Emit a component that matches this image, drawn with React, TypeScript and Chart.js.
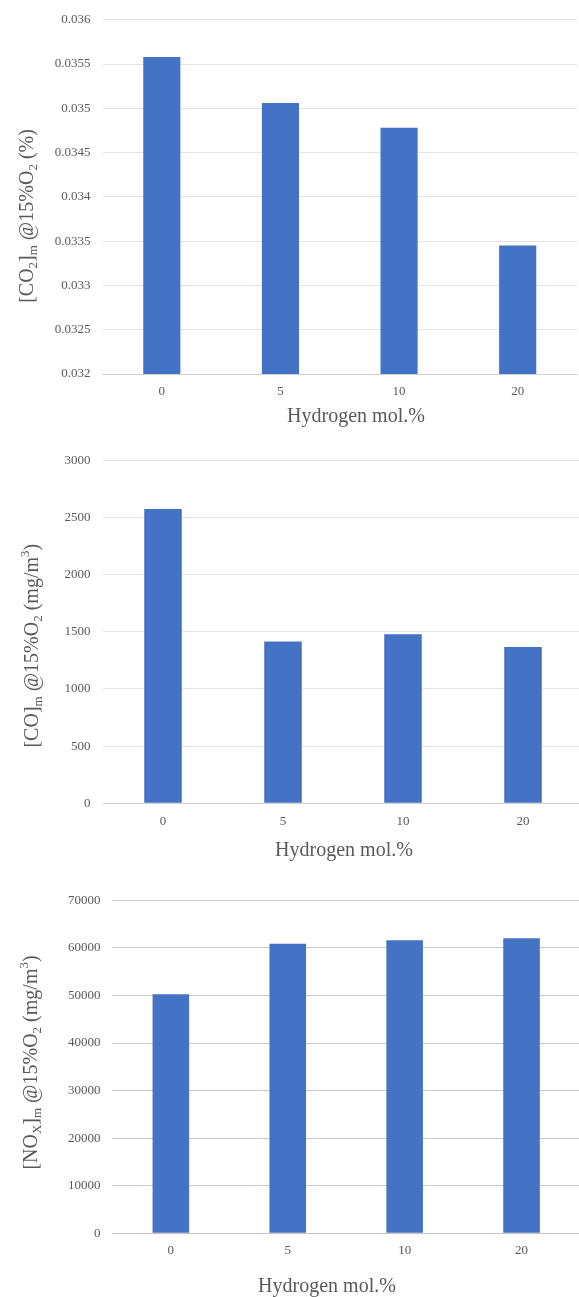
import React, { useEffect, useRef } from "react";
import { Chart, registerables } from "chart.js";

Chart.register(...registerables);

const categories = ["0", "5", "10", "20"];
const co2Values = [0.03558, 0.03506, 0.03478, 0.03345];
const coValues = [2575, 1416, 1479, 1367];
const noxValues = [50240, 60880, 61590, 62010];

const xTitle = "Hydrogen mol.%";
type Seg = { t: string; k?: "sub" | "sup" };
const co2Title: Seg[] = [
  { t: "[CO" }, { t: "2", k: "sub" }, { t: "]" }, { t: "m", k: "sub" },
  { t: " @15%O" }, { t: "2", k: "sub" }, { t: " (%)" },
];
const coTitle: Seg[] = [
  { t: "[CO]" }, { t: "m", k: "sub" }, { t: " @15%O" }, { t: "2", k: "sub" },
  { t: " (mg/m" }, { t: "3", k: "sup" }, { t: ")" },
];
const noxTitle: Seg[] = [
  { t: "[NO" }, { t: "X", k: "sub" }, { t: "]" }, { t: "m", k: "sub" },
  { t: " @15%O" }, { t: "2", k: "sub" }, { t: " (mg/m" }, { t: "3", k: "sup" }, { t: ")" },
];

const FONT = "'Liberation Serif', 'Times New Roman', serif";
const TXT = "#595959";
const BAR = "#4472C4";

type Cfg = {
  top: number;
  width: number;
  height: number;
  values: number[];
  min: number;
  max: number;
  step: number;
  fmt: (v: number) => string;
  padTop: number;
  padRight: number;
  yWidth: number;
  xHeight: number;
  yTickPad: number;
  xTickPad: number;
  gridColor: string;
  axisColor: string;
  yTitle: Seg[];
  yTitlePos: [number, number];
  xTitlePos: [number, number];
};

const charts: Cfg[] = [
  {
    top: 0, width: 579, height: 430, values: co2Values, min: 0.032, max: 0.036, step: 0.0005,
    fmt: (v) => String(+v.toFixed(4)), padTop: 18, padRight: 2, yWidth: 102.5, xHeight: 56,
    yTickPad: 12, xTickPad: 10, gridColor: "#e4e4e4", axisColor: "#d0d0d0",
    yTitle: co2Title, yTitlePos: [27.5, 216], xTitlePos: [356, 417],
  },
  {
    top: 440, width: 583, height: 430, values: coValues, min: 0, max: 3000, step: 500,
    fmt: (v) => String(v), padTop: 17.3, padRight: 0, yWidth: 103, xHeight: 66.7,
    yTickPad: 12.5, xTickPad: 10.5, gridColor: "#e4e4e4", axisColor: "#d0d0d0",
    yTitle: coTitle, yTitlePos: [32.5, 205.7], xTitlePos: [344, 410.7],
  },
  {
    top: 870, width: 580, height: 427, values: noxValues, min: 0, max: 70000, step: 10000,
    fmt: (v) => String(v), padTop: 30.3, padRight: 0, yWidth: 112.4, xHeight: 63.7,
    yTickPad: 12, xTickPad: 9.5, gridColor: "#cbcbcb", axisColor: "#c4c4c4",
    yTitle: noxTitle, yTitlePos: [31.5, 192.5], xTitlePos: [327, 416.7],
  },
];

function drawSegs(ctx: CanvasRenderingContext2D, segs: Seg[], cx: number, cy: number) {
  const big = `20px ${FONT}`;
  const small = `13px ${FONT}`;
  ctx.save();
  ctx.translate(cx, cy);
  ctx.rotate(-Math.PI / 2);
  ctx.fillStyle = TXT;
  ctx.textBaseline = "middle";
  ctx.textAlign = "left";
  let total = 0;
  for (const s of segs) {
    ctx.font = s.k ? small : big;
    total += ctx.measureText(s.t).width;
  }
  let x = -total / 2;
  for (const s of segs) {
    ctx.font = s.k ? small : big;
    const dy = s.k === "sub" ? 6 : s.k === "sup" ? -7 : 0;
    ctx.fillText(s.t, x, dy);
    x += ctx.measureText(s.t).width;
  }
  ctx.restore();
}

function BarChart({ cfg }: { cfg: Cfg }) {
  const ref = useRef<HTMLCanvasElement | null>(null);
  useEffect(() => {
    if (!ref.current) return;
    const titles = {
      id: "titles",
      afterDraw(chart: any) {
        const ctx = chart.ctx as CanvasRenderingContext2D;
        drawSegs(ctx, cfg.yTitle, cfg.yTitlePos[0], cfg.yTitlePos[1]);
        ctx.save();
        ctx.font = `20px ${FONT}`;
        ctx.fillStyle = TXT;
        ctx.textAlign = "center";
        ctx.textBaseline = "middle";
        ctx.fillText(xTitle, cfg.xTitlePos[0], cfg.xTitlePos[1]);
        ctx.restore();
      },
    };
    const chart = new Chart(ref.current, {
      type: "bar",
      data: {
        labels: categories,
        datasets: [
          {
            data: cfg.values,
            backgroundColor: BAR,
            borderWidth: 0,
            barPercentage: 0.313,
            categoryPercentage: 1,
          },
        ],
      },
      options: {
        responsive: false,
        animation: false,
        devicePixelRatio: 1,
        layout: { padding: { top: cfg.padTop, right: cfg.padRight, bottom: 0, left: 0 } },
        plugins: { legend: { display: false }, tooltip: { enabled: false } },
        scales: {
          x: {
            grid: { display: false, drawTicks: false },
            border: { display: true, color: cfg.axisColor, width: 1 },
            ticks: { color: TXT, font: { family: FONT, size: 13 }, padding: cfg.xTickPad },
            afterFit: (s: any) => { s.height = cfg.xHeight; },
          },
          y: {
            min: cfg.min,
            max: cfg.max,
            grid: { color: cfg.gridColor, drawTicks: false },
            border: { display: false },
            ticks: {
              stepSize: cfg.step,
              color: TXT,
              font: { family: FONT, size: 13 },
              padding: cfg.yTickPad,
              callback: (v: any) => cfg.fmt(Number(v)),
            },
            afterFit: (s: any) => { s.width = cfg.yWidth; },
          },
        },
      },
      plugins: [titles],
    });
    return () => chart.destroy();
  }, [cfg]);
  return (
    <div style={{ position: "absolute", left: 0, top: cfg.top, width: cfg.width, height: cfg.height }}>
      <canvas ref={ref} width={cfg.width} height={cfg.height} style={{ width: cfg.width, height: cfg.height, display: "block" }} />
    </div>
  );
}

export default function App() {
  return (
    <div style={{ position: "absolute", left: 0, top: 0, width: 579, height: 1297, overflow: "hidden", background: "#fff" }}>
      {charts.map((c, i) => (
        <BarChart key={i} cfg={c} />
      ))}
    </div>
  );
}
